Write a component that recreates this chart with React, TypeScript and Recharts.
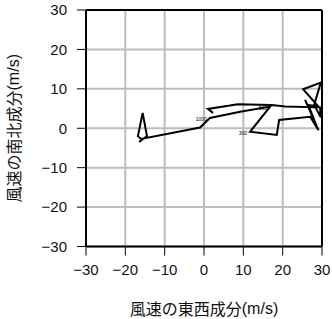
import React from 'react';
import { ScatterChart, Scatter, XAxis, YAxis, CartesianGrid, ReferenceLine } from 'recharts';

// hodograph: east-west (u) and north-south (v) wind components, m/s
const uWind = [-16.5, -14.5, -15.6, -16.8, -16.0, -1.0, 1.5, 9.2, 16.8, 11.7, 18.5, 19.1, 27.0, 29.1, 25.7, 28.7, 26.5, 29.1, 25.2, 29.7, 28.0, 29.7, 29.5, 20.6, 17.2, 8.6, 1.0, 2.3];
const vWind = [-3.5, -2.0, 3.9, -2.0, -2.7, 0.2, 2.6, 4.2, 5.5, -0.9, -1.7, 2.1, 2.9, -0.5, 7.2, 0.4, 5.9, 5.5, 9.9, 11.6, 5.9, 2.8, 5.3, 5.5, 5.9, 6.1, 4.9, 3.9];
const levelLabels = ['', '', '', '', '', '', '1000', '', '500', '300', '', '', '', '', '', '', '', '', '', '', '', '', '', '', '', '', '', ''];
const axisTicks = [-30, -20, -10, 0, 10, 20, 30];

const points = uWind.map((u, i) => ({ u, v: vWind[i], level: levelLabels[i] }));

const tickFont = { fontFamily: '"Liberation Sans", Arial, sans-serif', fontSize: 15, fill: '#111' };
const fmt = (n: number) => (n < 0 ? '\u2212' + Math.abs(n) : String(n));

const LevelMark = (props: any) => {
  const { cx, cy, payload } = props;
  if (!payload || !payload.level) return <g />;
  return (
    <text x={cx - 3} y={cy + 3} textAnchor="end" style={{ fill: '#000', fontSize: 5, fontFamily: '"Liberation Sans", sans-serif' }}>
      {payload.level}
    </text>
  );
};

const AxisTitle = ({ x, y, rotate }: { x: number; y: number; rotate?: boolean }) => (
  <text
    x={x}
    y={y}
    textAnchor="middle"
    dominantBaseline="central"
    transform={rotate ? `rotate(-90 ${x} ${y})` : undefined}
    fill="#111"
    style={{ fontFamily: '"Noto Sans CJK JP", sans-serif', fontSize: 16 }}
  >
    {rotate ? '風速の南北成分' : '風速の東西成分'}
    <tspan style={{ fontFamily: '"Liberation Sans", sans-serif', fontSize: 16 }}>(m/s)</tspan>
  </text>
);

export default function App() {
  return (
    <div style={{ position: 'absolute', left: 0, top: 0, width: 332, height: 319, background: '#fff' }}>
      <ScatterChart width={332} height={319} margin={{ top: 10, right: 10, left: 0, bottom: 0 }}>
        <CartesianGrid stroke="#bdbdbd" strokeWidth={2} verticalValues={axisTicks} horizontalValues={axisTicks} />
        <XAxis
          type="number"
          dataKey="u"
          domain={[-30, 30]}
          ticks={axisTicks}
          tickFormatter={fmt}
          height={72.5}
          tickSize={9}
          tickMargin={9}
          tick={tickFont}
          tickLine={{ stroke: '#000', strokeWidth: 1 }}
          axisLine={{ stroke: '#000', strokeWidth: 2 }}
          label={(p: any) => <AxisTitle x={p.viewBox.x + p.viewBox.width / 2} y={308} />}
        />
        <YAxis
          type="number"
          dataKey="v"
          domain={[-30, 30]}
          ticks={axisTicks}
          tickFormatter={fmt}
          width={86}
          tickSize={9}
          tickMargin={10}
          tick={tickFont}
          tickLine={{ stroke: '#000', strokeWidth: 1 }}
          axisLine={{ stroke: '#000', strokeWidth: 2 }}
          label={(p: any) => <AxisTitle x={13} y={p.viewBox.y + p.viewBox.height / 2} rotate />}
        />
        <ReferenceLine x={30} stroke="#000" strokeWidth={2} />
        <ReferenceLine y={30} stroke="#000" strokeWidth={2} />
        <Scatter
          data={points}
          fill="#000"
          line={{ stroke: '#000', strokeWidth: 2 }}
          shape={LevelMark}
          isAnimationActive={false}
        />
      </ScatterChart>
    </div>
  );
}
